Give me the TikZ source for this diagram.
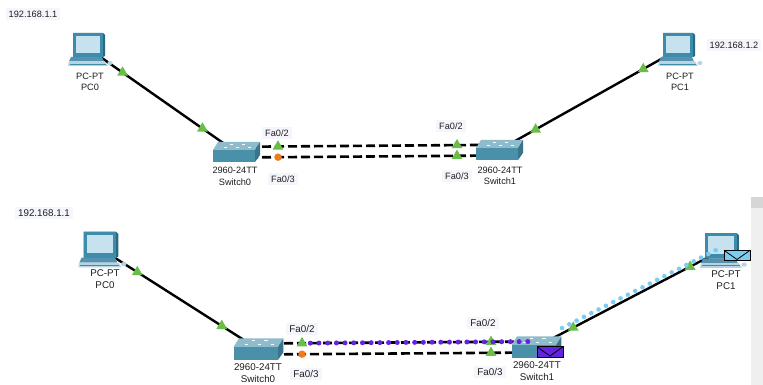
\documentclass[tikz,border=0pt]{standalone}
\usepackage{fontspec}
\setmainfont{Liberation Sans}
\usetikzlibrary{calc,shapes.geometric}

\definecolor{linkgreen}{RGB}{106,190,72}
\definecolor{linkorange}{RGB}{240,124,30}
\definecolor{tagbg}{RGB}{245,246,252}
\definecolor{pcframe}{RGB}{62,140,172}
\definecolor{pcside}{RGB}{42,104,132}
\definecolor{pcscreen}{RGB}{198,226,238}
\definecolor{pcbase}{RGB}{84,146,176}
\definecolor{pckeys}{RGB}{182,212,228}
\definecolor{swtop}{RGB}{142,188,204}
\definecolor{swfront}{RGB}{74,144,168}
\definecolor{swside}{RGB}{56,116,138}
\definecolor{pduviolet}{RGB}{98,36,222}
\definecolor{pdusky}{RGB}{122,204,240}
\definecolor{textgrey}{RGB}{30,30,30}
\definecolor{scrolltrack}{RGB}{239,239,239}
\definecolor{scrollthumb}{RGB}{214,214,214}

\tikzset{
  % desktop PC icon, drawn round its centre
  pcicon/.pic={
    \fill[pcbase] (-18,8) -- (13,8) -- (15,12.5) -- (-20,12.5) -- cycle;
    \fill[pckeys] (-20,12.5) -- (16,12.5) -- (19,17) -- (-21,17) -- cycle;
    \draw[pcframe, line width=0.4pt] (-19,14.8) -- (17,14.8);
    \fill[pckeys] (21,14) ellipse (2.6 and 2);
    \fill[pcside] (-16,-16) -- (14,-16) -- (16,-14) -- (16,7) -- (14,8) -- (-16,8) -- cycle;
    \fill[pcframe] (-16,-16) rectangle (14,8);
    \fill[pcscreen] (-13,-13) rectangle (11,4);
  },
  % 2960 switch icon, drawn round its centre
  swicon/.pic={
    \fill[swtop] (-18,-10) -- (24,-10) -- (19,-2) -- (-23,-2) -- cycle;
    \fill[swfront] (-23,-2) rectangle (19,10);
    \fill[swside] (19,-2) -- (24,-10) -- (24,3) -- (19,10) -- cycle;
    \draw[white, line width=0.7pt]
      (-6,-8) -- (-3,-8) (6,-8) -- (9,-8)
      (-12,-4.5) -- (-9,-4.5) (0,-4.5) -- (3,-4.5) (12,-4.5) -- (15,-4.5);
  },
  % envelope of a travelling PDU
  envicon/.pic={
    \filldraw[fill=\pgfkeysvalueof{/tikz/envfill}, draw=black, line width=0.9pt]
      (-13,-5.2) rectangle (13,5.2);
    \draw[black, line width=0.8pt] (-13,-5.2) -- (0,4) -- (13,-5.2);
  },
  envfill/.initial=pdusky,
  cable/.style={line width=2.4pt, black},
  crossover/.style={line width=2.6pt, black, dash pattern=on 9pt off 4pt},
  upmark/.style={regular polygon, regular polygon sides=3, fill=linkgreen,
    minimum size=12.5pt, inner sep=0pt},
  downmark/.style={circle, fill=linkorange, minimum size=7.5pt, inner sep=0pt},
  devlabel/.style={text=textgrey, inner sep=0pt, align=center},
  tag/.style={fill=tagbg, text=textgrey, inner xsep=3pt, inner ysep=2.5pt},
  violettrail/.style={pduviolet, line width=5pt, line cap=round,
    dash pattern=on 0pt off 8.7pt},
  skytrail/.style={pdusky, line width=4.6pt, line cap=round,
    dash pattern=on 0pt off 8.2pt},
}

\begin{document}
\begin{tikzpicture}[x=1pt, y=-1pt]
\path[use as bounding box, fill=white] (0,0) rectangle (763,385);

% ---------------- upper topology ----------------
\begin{scope}[font=\fontsize{9.2}{11.5}\selectfont]
\coordinate (pc0) at (89,49);
\coordinate (sw0) at (236,152);
\coordinate (sw1) at (499,150);
\coordinate (pc1) at (679,49);
\coordinate (sw0a) at ($(sw0)+(0,-5.2)$);
\coordinate (sw0b) at ($(sw0)+(0,5.5)$);
\coordinate (sw1a) at ($(sw1)+(0,-5.2)$);
\coordinate (sw1b) at ($(sw1)+(0,5.5)$);

\draw[cable] (pc0) -- (sw0);
\draw[cable] (sw1) -- (pc1);
\draw[crossover] (sw0a) -- (sw1a);
\draw[crossover] (sw0b) -- (sw1b);

\pic at (pc0) {pcicon};
\pic at (pc1) {pcicon};
\pic at (sw0) {swicon};
\pic at (sw1) {swicon};

\node[upmark] (l1) at ($(pc0)!41pt!(sw0)$) {};
\node[upmark] (l2) at ($(sw0)!41pt!(pc0)$) {};
\node[upmark] (l3) at ($(sw0a)!42pt!(sw1a)$) {};
\node[downmark] (l4) at ($(sw0b)!42pt!(sw1b)$) {};
\node[upmark] (l5) at ($(sw1a)!42pt!(sw0a)$) {};
\node[upmark] (l6) at ($(sw1b)!42pt!(sw0b)$) {};
\node[upmark] (l7) at ($(sw1)!42pt!(pc1)$) {};
\node[upmark] (l8) at ($(pc1)!41pt!(sw1)$) {};

\node[devlabel] (pc0t) at (90,82) {PC-PT\\PC0};
\node[devlabel] (pc1t) at (680,82) {PC-PT\\PC1};
\node[devlabel] (sw0t) at (235,176.5) {2960-24TT\\Switch0};
\node[devlabel] (sw1t) at (500,176) {2960-24TT\\Switch1};

\node[tag] (ip0) at (33,14) {192.168.1.1};
\node[tag] (ip1) at (734,45) {192.168.1.2};
\node[tag] (f02a) at (277,133) {Fa0/2};
\node[tag] (f03a) at (283,179) {Fa0/3};
\node[tag] (f02b) at (451,126) {Fa0/2};
\node[tag] (f03b) at (457,176) {Fa0/3};
\end{scope}

% ---------------- lower topology, PDU in transit ----------------
\begin{scope}[font=\fontsize{9.8}{12}\selectfont]
\coordinate (bpc0) at (101,249);
\coordinate (bsw0) at (258,349);
\coordinate (bsw1) at (536,347);
\coordinate (bpc1) at (722,250);
\coordinate (bsw0a) at ($(bsw0)+(0,-5.5)$);
\coordinate (bsw0b) at ($(bsw0)+(0,5.5)$);
\coordinate (bsw1a) at ($(bsw1)+(0,-5.5)$);
\coordinate (bsw1b) at ($(bsw1)+(0,5.5)$);
\coordinate (skyA) at (562,328);
\coordinate (skyB) at (722,247);

\draw[cable] (bpc0) -- (bsw0);
\draw[cable] (bsw1) -- (bpc1);
\draw[crossover] (bsw0a) -- (bsw1a);
\draw[crossover] (bsw0b) -- (bsw1b);

\pic[scale=1.08] at (bpc0) {pcicon};
\pic[scale=1.05] at (bpc1) {pcicon};
\pic[scale=1.06] at (bsw0) {swicon};
\pic[scale=1.06] at (bsw1) {swicon};

\node[upmark] (m1) at ($(bpc0)!43pt!(bsw0)$) {};
\node[upmark] (m2) at ($(bsw0)!43pt!(bpc0)$) {};
\node[upmark] (m3) at ($(bsw0a)!44pt!(bsw1a)$) {};
\node[downmark] (m4) at ($(bsw0b)!44pt!(bsw1b)$) {};
\node[upmark] (m5) at ($(bsw1a)!45pt!(bsw0a)$) {};
\node[upmark] (m6) at ($(bsw1b)!45pt!(bsw0b)$) {};
\node[upmark] (m7) at ($(bsw1)!42pt!(bpc1)$) {};
\node[upmark] (m8) at ($(bpc1)!36pt!(bsw1)$) {};

% PDU trails
\draw[violettrail] ($(bsw0a)!0.188!(bsw1a)$) -- ($(bsw0a)!0.99!(bsw1a)$);
\draw[skytrail] (skyA) -- (skyB);

% envelopes
\pic[envfill=pduviolet] (envv) at (550,352) {envicon};
\pic[envfill=pdusky] (envs) at (737,255.5) {envicon};

\node[devlabel] (bpc0t) at (105,279) {PC-PT\\PC0};
\node[devlabel] (bpc1t) at (726,280) {PC-PT\\PC1};
\node[devlabel] (bsw0t) at (258,373) {2960-24TT\\Switch0};
\node[devlabel] (bsw1t) at (537,371) {2960-24TT\\Switch1};

\node[tag] (bip0) at (44,213) {192.168.1.1};
\node[tag] (bf02a) at (302,329) {Fa0/2};
\node[tag] (bf03a) at (306,374) {Fa0/3};
\node[tag] (bf02b) at (483,323) {Fa0/2};
\node[tag] (bf03b) at (490,372) {Fa0/3};
\end{scope}

% vertical scroll bar of the lower view
\fill[scrolltrack] (751,197) rectangle (763,385);
\fill[scrollthumb] (751,197) rectangle (763,208);
\end{tikzpicture}
\end{document}
